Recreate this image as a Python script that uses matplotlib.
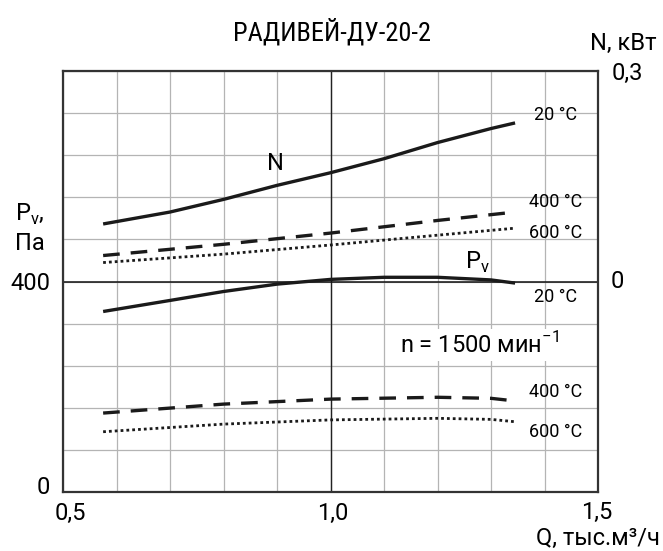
import matplotlib.pyplot as plt
from matplotlib import font_manager

plt.rcParams['font.family'] = ['Roboto', 'DejaVu Sans']

# flow, thousand m3/h
q_n = [0.575, 0.7, 0.8, 0.9, 1.0, 1.1, 1.2, 1.3, 1.345]
n_20 = [0.082, 0.099, 0.117, 0.137, 0.155, 0.175, 0.198, 0.218, 0.226]
q_n2 = [0.575, 0.8, 1.0, 1.2, 1.345]
n_400 = [0.037, 0.053, 0.069, 0.087, 0.099]
n_600 = [0.027, 0.039, 0.052, 0.066, 0.076]

q_p = [0.575, 0.7, 0.8, 0.9, 1.0, 1.1, 1.2, 1.3, 1.345]
pv_20 = [343, 364, 381, 395, 404, 408, 408, 403, 397]
q_p2 = [0.575, 0.8, 1.0, 1.2, 1.3, 1.345]
pv_400 = [150, 167, 176.5, 180, 178, 173]
pv_600 = [114.5, 129, 137, 140, 138, 133.5]

title = "РАДИВЕЙ-ДУ-20-2"

names = set(f.name for f in font_manager.fontManager.ttflist)
narrow = 'Liberation Sans Narrow' if 'Liberation Sans Narrow' in names else 'Roboto Condensed'
if narrow not in names:
    narrow = 'Roboto'

fig = plt.figure(figsize=(6.63, 5.51), dpi=100)
ax = fig.add_axes([63 / 663, 1 - 492 / 551, 535 / 663, 421 / 551])
ax.set_xlim(0.5, 1.5)
ax.set_ylim(0, 800)
ax.set_xticks([0.5 + 0.1 * i for i in range(11)])
ax.set_yticks([80 * i for i in range(11)])
ax.grid(True, color='#b4b4b4', lw=0.9)
ax.axvline(1.0, color='#222222', lw=1.0)
ax.axhline(400, color='#111111', lw=1.1)
ax.tick_params(length=0, labelleft=False, labelbottom=False)
for s in ax.spines.values():
    s.set_color('#333333')
    s.set_linewidth(1.6)

ax2 = ax.twinx()
ax2.set_ylim(-0.3, 0.3)
ax2.set_yticks([])
for s in ax2.spines.values():
    s.set_visible(False)

# pressure curves
ax.plot(q_p, pv_20, color='#1a1a1a', lw=2.4, solid_capstyle='butt')
ax.plot(q_p2, pv_400, color='#1a1a1a', lw=2.4, linestyle=(0, (5, 3.3)))
ax.plot(q_p2, pv_600, color='#1a1a1a', lw=2.0, linestyle=(0, (1, 1.1)))

# power curves
ax2.plot(q_n, n_20, color='#1a1a1a', lw=2.4, solid_capstyle='butt')
ax2.plot(q_n2, n_400, color='#1a1a1a', lw=2.4, linestyle=(0, (5, 3.3)))
ax2.plot(q_n2, n_600, color='#1a1a1a', lw=2.0, linestyle=(0, (1, 1.1)))

fs = 13
ax2.text(1.42, 0.237, "20 °C", fontsize=fs, ha='center', va='center')
ax2.text(1.42, 0.113, "400 °C", fontsize=fs, ha='center', va='center')
ax2.text(1.42, 0.069, "600 °C", fontsize=fs, ha='center', va='center')
ax2.text(0.897, 0.1675, "N", fontsize=17, ha='center', va='center')
ax.text(1.274, 437, r"P$_\mathregular{v}$", fontsize=17, ha='center', va='center')
ax.text(1.42, 370.5, "20 °C", fontsize=fs, ha='center', va='center')
ax.text(1.279, 279, r"n = 1500 мин$^\mathregular{-1}$", fontsize=17, ha='center', va='center',
        bbox=dict(facecolor='white', edgecolor='none', pad=2))
ax.text(1.42, 190, "400 °C", fontsize=fs, ha='center', va='center')
ax.text(1.42, 114, "600 °C", fontsize=fs, ha='center', va='center')

# axis labels and end values
lf = 17
fig.text(332 / 663, 1 - 32 / 551, title, fontsize=19, family=[narrow, 'DejaVu Sans'],
         ha='center', va='center')
fig.text(30 / 663, 1 - 214 / 551, r"P$_\mathregular{v}$,", fontsize=lf, ha='center', va='center')
fig.text(30 / 663, 1 - 243 / 551, "Па", fontsize=lf, ha='center', va='center')
fig.text(30 / 663, 1 - 283 / 551, "400", fontsize=lf, ha='center', va='center')
fig.text(43 / 663, 1 - 487 / 551, "0", fontsize=lf, ha='center', va='center')
fig.text(70 / 663, 1 - 513 / 551, "0,5", fontsize=lf, ha='center', va='center')
fig.text(333 / 663, 1 - 513 / 551, "1,0", fontsize=lf, ha='center', va='center')
fig.text(597 / 663, 1 - 512 / 551, "1,5", fontsize=lf, ha='center', va='center')
fig.text(598 / 663, 1 - 538 / 551, "Q, тыс.м³/ч", fontsize=lf, ha='center', va='center')
fig.text(623 / 663, 1 - 43 / 551, "N, кВт", fontsize=lf, ha='center', va='center')
fig.text(627 / 663, 1 - 73 / 551, "0,3", fontsize=lf, ha='center', va='center')
fig.text(617 / 663, 1 - 282 / 551, "0", fontsize=lf, ha='center', va='center')

fig.savefig("out.png", dpi=100)
